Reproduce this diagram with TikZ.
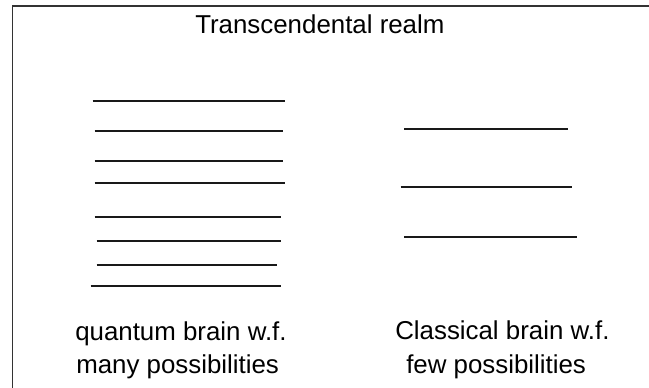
\documentclass[tikz,border=0pt]{standalone}
\usepackage{fontspec}
\setmainfont{Liberation Sans}
\begin{document}
\begin{tikzpicture}[x=0.75pt,y=-0.75pt,
  lbl/.style={inner sep=0pt,anchor=base west,font=\fontsize{19.4}{23}\selectfont,text=black},
  level/.style={line width=1.5pt,black!90},
  frame/.style={line width=1.1pt,black!80}]
\useasboundingbox (0,0) rectangle (649,387);
\clip (0,0) rectangle (649,387);
\fill[white] (0,0) rectangle (649,387);
% frame (continues beyond right and bottom edges)
\draw[frame] (12.5,400) -- (12.5,6) -- (670,6);
% title
\node[lbl] (title) at (195,33) {Transcendental realm};
% quantum brain levels
\draw[level] (92.7,101) -- (285,101);
\draw[level] (94.7,131) -- (282.7,131);
\draw[level] (94.7,161) -- (282.7,161);
\draw[level] (94.7,183.3) -- (285,183.3);
\draw[level] (94.7,217) -- (280.7,217);
\draw[level] (96.7,241.3) -- (280.7,241.3);
\draw[level] (96.7,265.3) -- (276.7,265.3);
\draw[level] (90.7,285.7) -- (280.7,285.7);
% classical brain levels
\draw[level] (404.3,129) -- (568.3,129);
\draw[level] (400.7,187.3) -- (572.3,187.3);
\draw[level] (404.3,237.3) -- (576.7,237.3);
% captions
\node[lbl] (q1) at (75,340.7) {quantum brain w.f.};
\node[lbl] (q2) at (76,373.3) {many possibilities};
\node[lbl] (c1) at (395,339.5) {Classical brain w.f.};
\node[lbl] (c2) at (406,373.2) {few possibilities};
\end{tikzpicture}
\end{document}
